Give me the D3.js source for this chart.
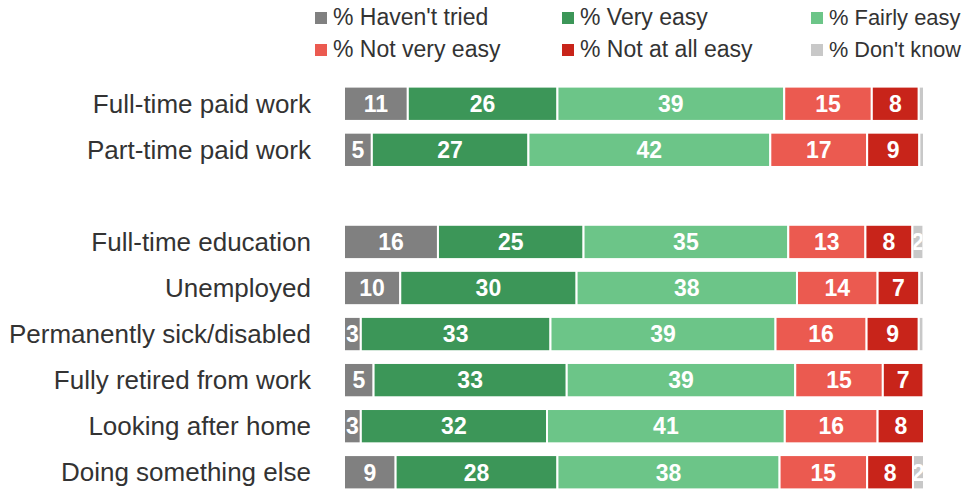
<!DOCTYPE html>
<html>
<head>
<meta charset="utf-8">
<script src="https://cdn.jsdelivr.net/npm/d3@7"></script>
<style>
  html, body { margin: 0; padding: 0; background: #fff; }
  svg { display: block; }
</style>
</head>
<body>
<svg id="chart" width="967" height="489"></svg>
<script>
// ---- data ----
const categories = [
  "Full-time paid work",
  "Part-time paid work",
  "",
  "Full-time education",
  "Unemployed",
  "Permanently sick/disabled",
  "Fully retired from work",
  "Looking after home",
  "Doing something else"
];
const seriesNames = ["% Haven't tried", "% Very easy", "% Fairly easy", "% Not very easy", "% Not at all easy", "% Don't know"];
const haventTried = [11.0, 4.8, null, 16.2, 9.7, 2.9, 5.1, 2.9, 8.9];
const veryEasy    = [25.8, 27.0, null, 25.1, 30.4, 32.7, 33.3, 32.1, 27.9];
const fairlyEasy  = [39.1, 41.7, null, 35.3, 38.0, 38.8, 39.4, 41.0, 38.3];
const notVeryEasy = [15.1, 16.7, null, 13.3, 13.9, 15.7, 15.1, 16.0, 15.1];
const notAtAll    = [8.1, 9.0, null, 8.1, 7.2, 9.0, 7.0, 8.0, 7.9];
const dontKnow    = [0.9, 0.8, null, 1.9, 0.8, 0.8, 0.0, 0.0, 1.9];
const colors = ["#808080", "#3c9658", "#6cc588", "#eb5a50", "#c8241a", "#c8c8c8"];

const seriesValues = [haventTried, veryEasy, fairlyEasy, notVeryEasy, notAtAll, dontKnow];

// ---- layout ----
const svg = d3.select("#chart");

const x = d3.scaleLinear().domain([0, 100]).range([344, 924]);
const y = d3.scaleBand().domain(d3.range(categories.length)).range([82, 494]).paddingInner(0.255).paddingOuter(0.1);

const rows = categories.map((c, i) => {
  const o = { idx: i, name: c };
  seriesNames.forEach((s, k) => o[s] = seriesValues[k][i] || 0);
  return o;
});
const stack = d3.stack().keys(seriesNames)(rows.filter(r => r.name !== ""));

const defs = svg.append("defs");

// category labels
svg.append("g").selectAll("text")
  .data(rows.filter(r => r.name !== ""))
  .join("text")
  .attr("x", 311)
  .attr("y", d => y(d.idx) + y.bandwidth() / 2)
  .attr("dy", "0.34em")
  .attr("text-anchor", "end")
  .attr("font-family", "Liberation Sans, Arial, sans-serif")
  .attr("font-size", 26)
  .attr("fill", "#333")
  .text(d => d.name);

// bars
let clipId = 0;
stack.forEach((layer, k) => {
  const g = svg.append("g");
  layer.forEach(seg => {
    const v = seg[1] - seg[0];
    if (v <= 0) return;
    const r = seg.data;
    const x0 = x(seg[0]), x1 = x(seg[1]);
    const yy = y(r.idx), h = y.bandwidth();
    g.append("rect")
      .attr("x", x0).attr("y", yy)
      .attr("width", x1 - x0).attr("height", h)
      .attr("fill", colors[k])
      .attr("stroke", "#fff").attr("stroke-width", 2);
    if (Math.round(v) >= 2) {
      const id = "clip" + (clipId++);
      defs.append("clipPath").attr("id", id).append("rect")
        .attr("x", x0 + 1).attr("y", yy).attr("width", Math.max(0, x1 - x0 - 2)).attr("height", h);
      g.append("text")
        .attr("clip-path", `url(#${id})`)
        .attr("x", (x0 + x1) / 2)
        .attr("y", yy + h / 2)
        .attr("dy", "0.36em")
        .attr("text-anchor", "middle")
        .attr("font-family", "Liberation Sans, Arial, sans-serif")
        .attr("font-weight", "bold")
        .attr("font-size", 23)
        .attr("fill", "#fff")
        .text(Math.round(v));
    }
  });
});

// legend
const legX = [315, 562, 811];
const legY = [17, 49];
const leg = svg.append("g");
seriesNames.forEach((s, k) => {
  const lx = legX[k % 3], ly = legY[Math.floor(k / 3)];
  leg.append("rect").attr("x", lx).attr("y", ly - 5).attr("width", 12).attr("height", 12).attr("fill", colors[k]);
  const t = leg.append("text")
    .attr("x", lx + 18).attr("y", ly)
    .attr("dy", "0.36em")
    .attr("font-family", "Liberation Sans, Arial, sans-serif")
    .attr("font-size", 23)
    .attr("fill", "#333")
    .text(s);
  const maxRight = 961;
  const len = t.node().getComputedTextLength();
  if (lx + 18 + len > maxRight) {
    t.attr("font-size", Math.floor(23 * (maxRight - lx - 18) / len * 10) / 10);
  }
});
</script>
</body>
</html>
